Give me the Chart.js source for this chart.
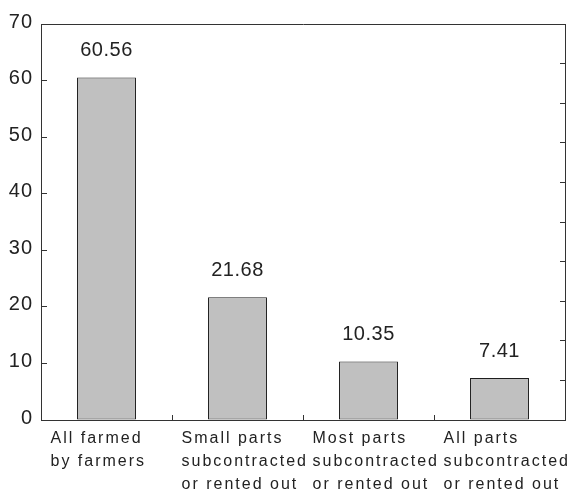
<!DOCTYPE html>
<html>
<head>
<meta charset="utf-8">
<script src="https://cdn.jsdelivr.net/npm/chart.js@4"></script>
<style>
  html, body { margin: 0; padding: 0; background: #ffffff; }
  #wrap { width: 576px; height: 494px; }
</style>
</head>
<body>
<div id="wrap"><canvas id="chart" width="576" height="494"></canvas></div>
<script>
// Land use of contracted farmland (%)
const categories = [
  ['All farmed', 'by farmers'],
  ['Small parts', 'subcontracted', 'or rented out'],
  ['Most parts', 'subcontracted', 'or rented out'],
  ['All parts', 'subcontracted', 'or rented out']
];
const shares = [60.56, 21.68, 10.35, 7.41];
const yTicks = [0, 10, 20, 30, 40, 50, 60, 70];

const FONT = '"Liberation Sans", Arial, Helvetica, sans-serif';
const INK = '#222222';
const FRAME = '#333333';

// Wide tracking for the category labels, lighter tracking for everything drawn later
const tracking = {
  id: 'tracking',
  beforeDraw(chart) { chart.ctx.letterSpacing = '2px'; },
  beforeDatasetsDraw(chart) { chart.ctx.letterSpacing = '1px'; },
  afterDraw(chart) { chart.ctx.letterSpacing = '0px'; }
};

// Value printed above each bar
const valueLabels = {
  id: 'valueLabels',
  afterDatasetsDraw(chart) {
    const ctx = chart.ctx;
    const meta = chart.getDatasetMeta(0);
    ctx.save();
    ctx.font = '20px ' + FONT;
    ctx.fillStyle = INK;
    ctx.textAlign = 'center';
    ctx.textBaseline = 'middle';
    ctx.letterSpacing = '0.5px';
    meta.data.forEach((bar, i) => {
      ctx.fillText(shares[i].toFixed(2), bar.x, bar.y - 27);
    });
    ctx.restore();
  }
};

new Chart(document.getElementById('chart'), {
  type: 'bar',
  data: {
    labels: categories,
    datasets: [{
      data: shares,
      backgroundColor: '#c0c0c0',
      borderColor: '#1e1e1e',
      borderWidth: 1,
      borderSkipped: false,
      barPercentage: 0.45,
      categoryPercentage: 1.0,
      xAxisID: 'x',
      yAxisID: 'y'
    }]
  },
  options: {
    responsive: false,
    animation: false,
    devicePixelRatio: 1,
    layout: { padding: { top: 24, right: 11, left: 0, bottom: 0 } },
    plugins: { legend: { display: false }, tooltip: { enabled: false } },
    scales: {
      x: {
        type: 'category',
        position: 'bottom',
        offset: true,
        grid: { offset: true, drawOnChartArea: false, drawTicks: true, tickLength: -5, color: FRAME, lineWidth: 1 },
        border: { display: true, color: FRAME, width: 1 },
        ticks: {
          align: 'start',
          labelOffset: -56,
          padding: 12,
          autoSkip: false,
          maxRotation: 0,
          minRotation: 0,
          color: INK,
          font: { family: FONT, size: 16, lineHeight: 23 / 16 }
        },
        afterFit(s) { s.height = 74; s.paddingLeft = 0; s.paddingRight = 0; }
      },
      y: {
        position: 'left',
        min: yTicks[0],
        max: yTicks[yTicks.length - 1],
        ticks: {
          stepSize: yTicks[1] - yTicks[0],
          padding: 14,
          labelOffset: -2,
          color: INK,
          font: { family: FONT, size: 20 },
          z: 1
        },
        grid: { drawOnChartArea: false, tickLength: -6, color: FRAME, lineWidth: 1 },
        border: { display: true, color: FRAME, width: 1 },
        afterFit(s) { s.width = 41; s.paddingTop = 0; s.paddingBottom = 0; }
      },
      y2: {
        position: 'right',
        min: 0,
        max: 100,
        ticks: { display: false, stepSize: 10 },
        grid: { drawOnChartArea: false, tickLength: -5, color: FRAME, lineWidth: 1 },
        border: { display: true, color: FRAME, width: 1 },
        afterFit(s) { s.width = 0; s.paddingTop = 0; s.paddingBottom = 0; }
      },
      xTop: {
        type: 'category',
        position: 'top',
        ticks: { display: false },
        grid: { drawOnChartArea: false, drawTicks: false },
        border: { display: true, color: FRAME, width: 1 },
        afterFit(s) { s.height = 0; s.paddingLeft = 0; s.paddingRight = 0; }
      }
    }
  },
  plugins: [tracking, valueLabels]
});
</script>
</body>
</html>
